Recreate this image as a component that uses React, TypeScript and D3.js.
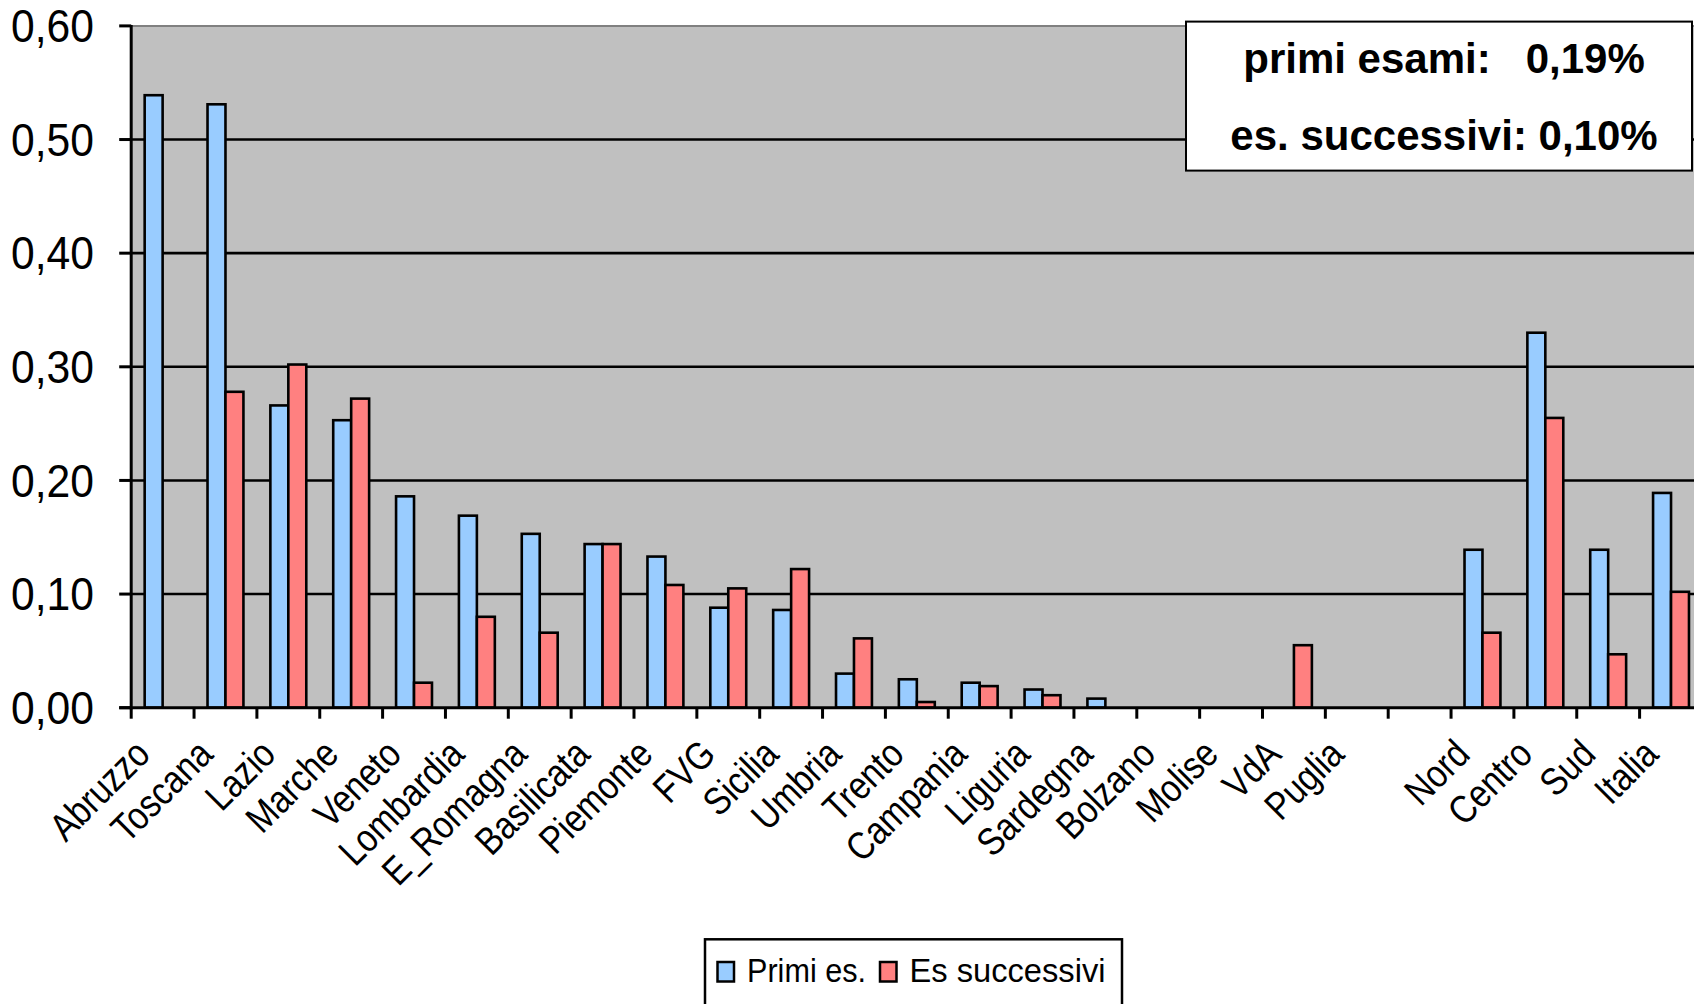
import React from "react";
import * as d3 from "d3";

const categories = [
  "Abruzzo", "Toscana", "Lazio", "Marche", "Veneto", "Lombardia", "E_Romagna",
  "Basilicata", "Piemonte", "FVG", "Sicilia", "Umbria", "Trento", "Campania",
  "Liguria", "Sardegna", "Bolzano", "Molise", "VdA", "Puglia", "",
  "Nord", "Centro", "Sud", "Italia",
];
const primiEs: (number | null)[] = [
  0.539, 0.531, 0.266, 0.253, 0.186, 0.169, 0.153, 0.144, 0.133, 0.088, 0.086,
  0.030, 0.025, 0.022, 0.016, 0.008, 0, 0, 0, 0, null, 0.139, 0.330, 0.139, 0.189,
];
const esSuccessivi: (number | null)[] = [
  0, 0.278, 0.302, 0.272, 0.022, 0.080, 0.066, 0.144, 0.108, 0.105, 0.122,
  0.061, 0.005, 0.019, 0.011, 0, 0, 0, 0.055, 0, null, 0.066, 0.255, 0.047, 0.102,
];
const yTicks = [0, 0.1, 0.2, 0.3, 0.4, 0.5, 0.6];
const seriesNames = ["Primi es.", "Es successivi"];
const seriesColors = ["#99CCFF", "#FF8080"];
const infoLines = ["primi esami:   0,19%", "es. successivi: 0,10%"];

const W = 1694;
const H = 1004;
const FONT = "'Liberation Sans', Arial, Helvetica, sans-serif";
const plotLeft = 131.2;
const step = 62.85;
const plotTop = 25.9;
const plotBottom = 707.7;

let measureCtx: CanvasRenderingContext2D | null = null;
function measure(text: string, size: number) {
  if (!measureCtx) {
    const c = document.createElement("canvas");
    measureCtx = c.getContext("2d");
  }
  if (!measureCtx) return text.length * size * 0.5;
  measureCtx.font = `${size}px 'Liberation Sans', Arial, sans-serif`;
  return measureCtx.measureText(text).width;
}

export default function App() {
  const x = d3
    .scaleBand<number>()
    .domain(categories.map((_, i) => i))
    .range([plotLeft, plotLeft + step * categories.length])
    .paddingInner(0)
    .paddingOuter(0);
  const y = d3.scaleLinear().domain([0, 0.6]).range([plotBottom, plotTop]);
  const bw = x.bandwidth() / 3.5;
  const fmt = (v: number) => v.toFixed(2).replace(".", ",");

  const labelSize = 39;

  return (
    <svg
      width={W}
      height={H}
      style={{ position: "absolute", left: 0, top: 0, background: "#fff" }}
      fontFamily={FONT}
    >
      {/* plot area */}
      <rect
        x={plotLeft}
        y={plotTop}
        width={step * categories.length}
        height={plotBottom - plotTop}
        fill="#C0C0C0"
      />
      <line
        x1={plotLeft}
        x2={plotLeft + step * categories.length}
        y1={plotTop}
        y2={plotTop}
        stroke="#808080"
        strokeWidth={2}
      />
      {/* gridlines */}
      {yTicks
        .filter((t) => t > 0 && t < 0.6)
        .map((t) => (
          <line
            key={"g" + t}
            x1={plotLeft}
            x2={plotLeft + step * categories.length}
            y1={y(t)}
            y2={y(t)}
            stroke="#000"
            strokeWidth={2.6}
          />
        ))}
      {/* bars */}
      {categories.map((c, i) => {
        const cx = (x(i) as number) + x.bandwidth() / 2;
        const out: React.ReactNode[] = [];
        [primiEs[i], esSuccessivi[i]].forEach((v, s) => {
          if (v == null || v <= 0) return;
          out.push(
            <rect
              key={`b${i}-${s}`}
              x={cx - bw + s * bw}
              y={y(v)}
              width={bw}
              height={plotBottom - y(v)}
              fill={seriesColors[s]}
              stroke="#000"
              strokeWidth={2.6}
            />
          );
        });
        return <g key={"c" + i}>{out}</g>;
      })}
      {/* y axis */}
      <line x1={plotLeft} x2={plotLeft} y1={plotTop - 1} y2={plotBottom + 1.5} stroke="#000" strokeWidth={3} />
      {yTicks.map((t) => (
        <g key={"yt" + t}>
          <line x1={plotLeft - 12} x2={plotLeft} y1={y(t)} y2={y(t)} stroke="#000" strokeWidth={3} />
          <text
            x={94}
            y={y(t) + 16.3}
            fontSize={46}
            textAnchor="end"
            textLength={83}
            lengthAdjust="spacingAndGlyphs"
            fill="#000"
          >
            {fmt(t)}
          </text>
        </g>
      ))}
      {/* x axis */}
      <line
        x1={plotLeft - 12}
        x2={plotLeft + step * categories.length}
        y1={plotBottom}
        y2={plotBottom}
        stroke="#000"
        strokeWidth={3}
      />
      {d3.range(categories.length + 1).map((k) => (
        <line
          key={"xt" + k}
          x1={plotLeft + k * step}
          x2={plotLeft + k * step}
          y1={plotBottom}
          y2={plotBottom + 11}
          stroke="#000"
          strokeWidth={3}
        />
      ))}
      {categories.map((c, i) => {
        if (!c) return null;
        const cx = (x(i) as number) + x.bandwidth() / 2;
        const L = measure(c, 37) * 0.9;
        const along = -42;
        const perp = 27;
        const ex = cx + 0.7071 * (along + perp);
        const ey = plotBottom + 0.7071 * (perp - along);
        return (
          <text
            key={"xl" + i}
            x={ex}
            y={ey}
            fontSize={labelSize}
            textAnchor="end"
            textLength={L}
            lengthAdjust="spacingAndGlyphs"
            transform={`rotate(-45 ${ex} ${ey})`}
            fill="#000"
          >
            {c}
          </text>
        );
      })}
      {/* info box */}
      <rect x={1186} y={21.6} width={506} height={149} fill="#fff" stroke="#000" strokeWidth={2} />
      {infoLines.map((t, i) => (
        <text
          key={"info" + i}
          x={1444}
          y={73 + i * 76.5}
          fontSize={42}
          fontWeight="bold"
          textAnchor="middle"
          style={{ whiteSpace: "pre" }}
          fill="#000"
        >
          {t}
        </text>
      ))}
      {/* legend */}
      <rect x={705} y={939.3} width={417} height={90} fill="#fff" stroke="#000" strokeWidth={2.5} />
      {seriesNames.map((n, s) => {
        const kx = s === 0 ? 717.5 : 880;
        return (
          <g key={"lg" + s}>
            <rect x={kx} y={962} width={16.5} height={19.5} fill={seriesColors[s]} stroke="#000" strokeWidth={2.5} />
            <text
              x={kx + 29.5}
              y={981.7}
              fontSize={33}
              textLength={s === 0 ? 119 : 196}
              lengthAdjust="spacingAndGlyphs"
              fill="#000"
            >
              {n}
            </text>
          </g>
        );
      })}
    </svg>
  );
}
